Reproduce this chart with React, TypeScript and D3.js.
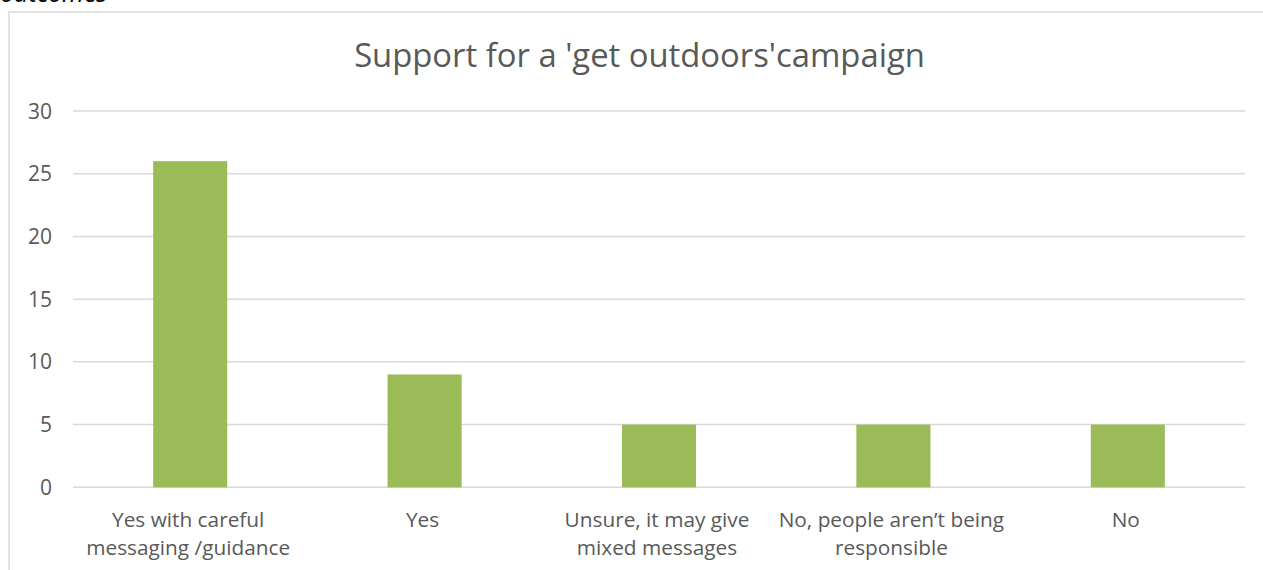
import React from "react";
import * as d3 from "d3";

const categories: string[][] = [
  ["Yes with careful", "messaging /guidance"],
  ["Yes"],
  ["Unsure, it may give", "mixed messages"],
  ["No, people aren\u2019t being", "responsible"],
  ["No"],
];
const values: number[] = [26, 9, 5, 5, 5];
const yTicks: number[] = [0, 5, 10, 15, 20, 25, 30];
const title = "Support for a 'get outdoors'campaign";

const W = 1263;
const H = 570;
const plot = { left: 73, right: 1245, top: 111, bottom: 487.3 };

export default function App() {
  const x = d3
    .scaleBand<number>()
    .domain(values.map((_, i) => i))
    .range([plot.left, plot.right])
    .paddingInner(0.684)
    .paddingOuter(0.342);
  const y = d3.scaleLinear().domain([0, 30]).range([plot.bottom, plot.top]);
  const font = "'Open Sans', sans-serif";
  const grey = "#595959";
  return (
    <svg
      width={W}
      height={H}
      style={{ position: "absolute", left: 0, top: 0, background: "#fff" }}
    >
      <text
        x={0}
        y={2}
        fontFamily={font}
        fontStyle="italic"
        fontSize={25}
        fill="#000"
      >
        outcomes
      </text>
      <rect
        x={9}
        y={12}
        width={W + 10}
        height={H + 10}
        fill="none"
        stroke="#d9d9d9"
        strokeWidth={1.5}
      />
      <text
        x={639.5}
        y={67}
        textAnchor="middle"
        fontFamily={font}
        fontSize={32.8}
        fill={grey}
      >
        {title}
      </text>
      {yTicks.map((t) => (
        <g key={t}>
          <line
            x1={plot.left}
            x2={plot.right}
            y1={y(t)}
            y2={y(t)}
            stroke="#d9d9d9"
            strokeWidth={1.5}
          />
          <text
            x={52}
            y={y(t)}
            dy="0.36em"
            textAnchor="end"
            fontFamily={font}
            fontSize={21}
            fill={grey}
          >
            {t}
          </text>
        </g>
      ))}
      {values.map((v, i) => (
        <rect
          key={i}
          x={x(i)}
          y={y(v)}
          width={x.bandwidth()}
          height={y(0) - y(v)}
          fill="#9bbb59"
        />
      ))}
      {categories.map((lines, i) => {
        const cx = (x(i) as number) + x.bandwidth() / 2 - 2;
        return (
          <text
            key={i}
            x={cx}
            y={527}
            textAnchor="middle"
            fontFamily={font}
            fontSize={20.8}
            fill={grey}
          >
            {lines.map((l, j) => (
              <tspan key={j} x={cx} dy={j === 0 ? 0 : 28}>
                {l}
              </tspan>
            ))}
          </text>
        );
      })}
    </svg>
  );
}
